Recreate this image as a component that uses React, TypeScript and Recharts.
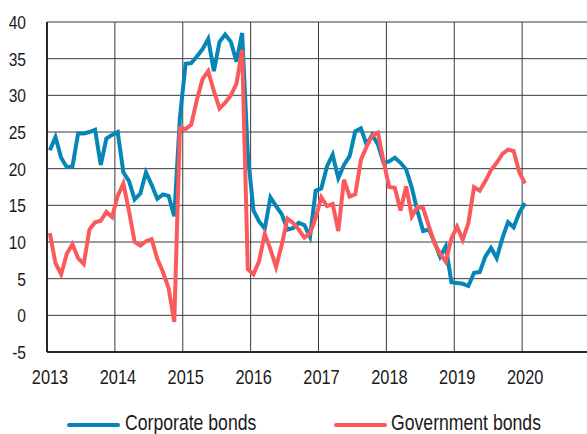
import {
  LineChart,
  Line,
  XAxis,
  YAxis,
  CartesianGrid,
} from "recharts";

const START_YEAR = 2013;

// monthly observations, Jan 2013 - Jan 2020
const corporate = [
  22.5, 24.3, 21.5, 20.2, 20.3, 24.8, 24.8, 25.0, 25.3, 20.5, 24.1, 24.6,
  25.0, 19.5, 18.3, 15.8, 16.6, 19.5, 17.8, 15.9, 16.5, 16.3, 13.5, 27.0,
  34.3, 34.4, 35.3, 36.3, 37.7, 33.3, 37.3, 38.3, 37.3, 34.6, 38.5, 22.0,
  14.3, 12.8, 11.8, 16.1, 14.9, 13.8, 11.7, 11.9, 12.6, 12.3, 10.7, 17.0,
  17.3, 20.3, 21.9, 18.7, 20.5, 21.7, 25.1, 25.5, 23.3, 24.6, 23.3, 20.8,
  21.0, 21.5, 20.8, 19.9, 17.4, 14.2, 11.5, 11.7, 10.0, 8.0, 9.4, 4.5,
  4.4, 4.3, 4.0, 5.8, 5.9, 8.0, 9.2, 7.8, 10.5, 12.7, 12.0, 14.0,
  15.3,
];

const government = [
  11.2, 7.1, 5.6, 8.4, 9.7, 7.8, 7.0, 11.7, 12.7, 12.9, 14.1, 13.4,
  16.3, 18.0, 14.2, 10.0, 9.5, 10.1, 10.4, 7.7, 5.9, 3.7, -0.9, 25.5,
  25.4, 26.0, 29.4, 32.2, 33.3, 30.6, 28.2, 29.0, 30.0, 31.6, 36.2, 6.3,
  5.6, 7.4, 11.1, 9.0, 6.6, 9.6, 13.2, 12.6, 11.7, 10.6, 11.2, 13.3,
  16.1, 14.9, 15.2, 11.5, 18.5, 16.2, 16.5, 21.2, 23.0, 24.5, 24.9, 21.0,
  17.5, 17.4, 14.3, 17.6, 13.5, 14.8, 14.6, 12.2, 9.8, 8.4, 7.3, 10.5,
  12.1, 10.3, 12.6, 17.5, 17.0, 18.3, 19.8, 20.8, 22.0, 22.6, 22.4, 19.5,
  18.0,
];

const yearTicks = [2013, 2014, 2015, 2016, 2017, 2018, 2019, 2020];
const valueTicks = [-5, 0, 5, 10, 15, 20, 25, 30, 35, 40];

const BLUE = "#0686b6";
const RED = "#fb5a5c";
const FONT = "'Liberation Sans', Arial, sans-serif";
const NARROW = 0.82; // squeeze to mimic a narrow face

// points sit in the middle of each month
const data = corporate.map((c, i) => ({
  date: START_YEAR + (i + 0.5) / 12,
  corporate: c,
  government: government[i],
}));

function YearTick({ x, y, payload }: any) {
  return (
    <g transform={`translate(${x + 3},${y}) scale(${NARROW},1)`}>
      <text textAnchor="middle" dy="0.71em" fontSize={20} fill="#1a1a1a" fontFamily={FONT}>
        {payload.value}
      </text>
    </g>
  );
}

function ValueTick({ x, y, payload }: any) {
  return (
    <g transform={`translate(${x},${y}) scale(${NARROW},1)`}>
      <text textAnchor="end" dy="0.36em" fontSize={19} fill="#1a1a1a" fontFamily={FONT}>
        {payload.value}
      </text>
    </g>
  );
}

const legendText = {
  position: "absolute" as const,
  top: 0,
  whiteSpace: "nowrap" as const,
  lineHeight: 1,
  transform: `scaleX(${NARROW})`,
  transformOrigin: "left center",
};

export default function App() {
  return (
    <div
      style={{
        position: "absolute",
        left: 0,
        top: 0,
        width: 587,
        height: 434,
        overflow: "hidden",
        background: "#fff",
        fontFamily: FONT,
      }}
    >
      <LineChart
        width={590}
        height={434}
        data={data}
        margin={{ top: 22, right: 0, left: 0, bottom: 52 }}
      >
        <CartesianGrid stroke="#3a3a3a" strokeWidth={1} />
        <XAxis
          type="number"
          dataKey="date"
          domain={[2013, 2021]}
          ticks={yearTicks}
          tickSize={0}
          tickMargin={18}
          height={30}
          axisLine={{ stroke: "#000", strokeWidth: 1.5 }}
          tick={<YearTick />}
        />
        <YAxis
          type="number"
          domain={[-5, 40]}
          ticks={valueTicks}
          width={47}
          tickSize={0}
          tickMargin={21}
          axisLine={{ stroke: "#000", strokeWidth: 1.5 }}
          tick={<ValueTick />}
        />
        <Line
          dataKey="corporate"
          stroke={BLUE}
          strokeWidth={4}
          dot={false}
          isAnimationActive={false}
        />
        <Line
          dataKey="government"
          stroke={RED}
          strokeWidth={4}
          dot={false}
          isAnimationActive={false}
        />
      </LineChart>

      <div style={{ position: "absolute", top: 413, left: 0, width: 587, height: 21, color: "#1a1a1a", fontSize: 21.5 }}>
        <div style={{ position: "absolute", left: 67, top: 10, width: 53, height: 4, background: BLUE, borderRadius: 2 }} />
        <div style={{ ...legendText, left: 125 }}>Corporate bonds</div>
        <div style={{ position: "absolute", left: 334, top: 10, width: 53, height: 4, background: RED, borderRadius: 2 }} />
        <div style={{ ...legendText, left: 391 }}>Government bonds</div>
      </div>
    </div>
  );
}
